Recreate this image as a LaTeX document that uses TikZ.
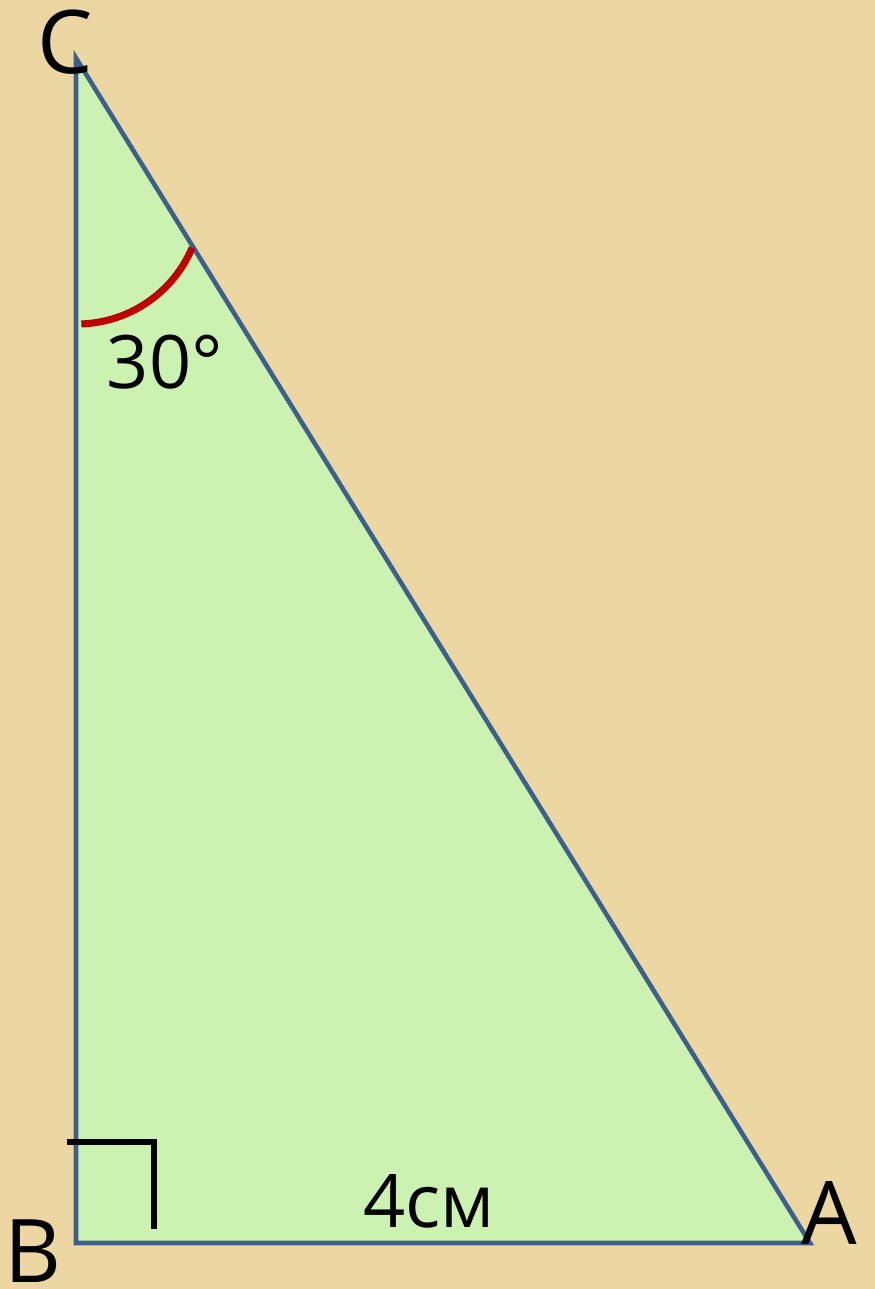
\documentclass[tikz,border=0pt]{standalone}
\usepackage{fontspec}
\setmainfont{Open Sans}
\usepackage{tikz}
\usetikzlibrary{calc}
\definecolor{paper}{RGB}{236,215,162}
\definecolor{trifill}{RGB}{204,242,178}
\definecolor{triedge}{RGB}{60,95,140}
\definecolor{angred}{RGB}{192,0,0}
\tikzset{
  side/.style={draw=triedge, line width=1.3pt, line join=miter},
  angarc/.style={angred, line width=2pt},
  rtmark/.style={black, line width=1.5pt},
  vlab/.style={font=\fontsize{25}{28}\selectfont, inner sep=0pt},
  mlab/.style={font=\fontsize{21}{24}\selectfont, inner sep=0pt},
}
\begin{document}
\begin{tikzpicture}
    \fill[paper] (0,0) rectangle (8.75,12.89);
    \useasboundingbox (0,0) rectangle (8.75,12.89);
    \coordinate (B) at (0.76,0.46);
    \coordinate (C) at (0.76,12.31);
    \coordinate (A) at (8.10,0.46);
    \filldraw[side, fill=trifill] (B) -- (C) -- (A) -- cycle;
    % angle at C
    \coordinate (O) at (0.77,10.90);
    \draw[angarc] ($(O)+(-88:1.25)$) arc (-88:-23:1.25);
    % right angle at B
    \coordinate (R1) at (0.67,1.47);
    \coordinate (R2) at (1.54,1.47);
    \coordinate (R3) at (1.54,0.60);
    \draw[rtmark] (R1) -- (R2) -- (R3);
    \node[vlab] (labC) at (0.65,12.47) {C};
    \node[vlab] (labB) at (0.33,0.38) {B};
    \node[vlab] (labA) at (8.29,0.76) {A};
    \node[mlab] (ang) at (1.65,9.27) {30°};
    \node[mlab] (len) at (4.29,0.88) {4см};
\end{tikzpicture}
\end{document}
